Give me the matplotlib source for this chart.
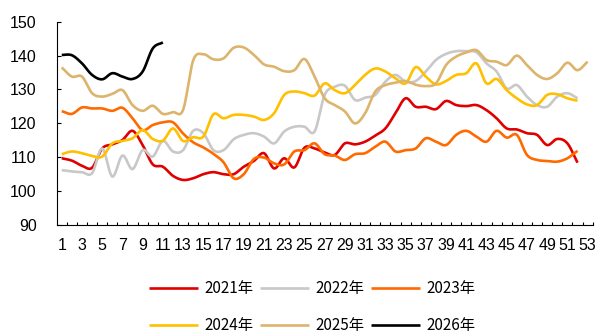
import numpy as np
import matplotlib
matplotlib.use("Agg")
import matplotlib.pyplot as plt

# weekly index values, one list per year
y2021 = [109.7, 109.0, 107.5, 106.9, 112.6, 113.8, 115.1, 117.8, 113.6, 107.9,
         107.2, 104.5, 103.3, 103.8, 105.0, 105.6, 105.0, 105.0, 107.2, 108.9,
         111.2, 106.7, 109.7, 107.0, 112.8, 112.6, 111.4, 110.7, 114.1, 113.8,
         114.6, 116.4, 118.5, 123.0, 127.4, 124.9, 124.9, 124.2, 126.6, 125.4,
         125.1, 125.4, 123.9, 121.5, 118.5, 118.2, 117.1, 116.6, 113.6, 115.4,
         114.1, 108.4]
y2022 = [106.2, 105.8, 105.6, 105.3, 112.6, 104.3, 110.5, 106.5, 112.1, 110.2,
         114.8, 111.7, 112.1, 117.8, 117.1, 112.1, 112.1, 115.3, 116.6, 117.1,
         116.1, 114.1, 117.6, 119.0, 119.0, 117.6, 128.4, 130.8, 131.1, 126.9,
         127.6, 128.4, 132.3, 134.3, 132.3, 132.5, 135.3, 138.7, 140.5, 141.3,
         141.3, 141.0, 137.7, 135.3, 130.3, 131.3, 127.9, 125.4, 124.9, 127.9,
         128.9, 127.4]
y2023 = [123.6, 122.8, 124.7, 124.4, 124.4, 123.7, 124.6, 121.5, 118.0, 119.5,
         120.3, 120.3, 117.0, 114.4, 112.9, 111.0, 108.5, 103.8, 105.0, 109.5,
         109.9, 108.2, 107.9, 111.7, 112.1, 114.1, 110.9, 110.5, 109.2, 110.9,
         111.2, 113.1, 114.6, 111.7, 112.1, 112.6, 115.6, 114.6, 113.6, 116.6,
         117.8, 116.1, 114.6, 117.8, 115.8, 116.6, 110.7, 109.2, 108.9, 108.7,
         109.7, 111.9]
y2024 = [110.9, 111.7, 111.2, 110.4, 110.2, 114.1, 114.8, 115.6, 118.0, 115.4,
         114.9, 118.5, 114.8, 115.9, 116.1, 122.7, 121.5, 122.5, 122.5, 122.0,
         121.0, 123.0, 128.4, 129.4, 128.9, 128.2, 131.8, 129.8, 128.9, 131.3,
         134.3, 136.2, 135.3, 133.3, 131.8, 136.6, 133.8, 131.5, 132.5, 134.3,
         134.8, 137.7, 131.8, 133.1, 129.8, 127.4, 125.6, 125.4, 128.4, 128.6,
         127.4, 126.7]
y2025 = [136.5, 133.8, 133.8, 128.9, 127.9, 128.7, 129.8, 125.4, 123.7, 125.2,
         122.8, 123.3, 124.0, 138.6, 140.4, 138.9, 139.2, 142.3, 142.4, 140.2,
         137.4, 136.7, 135.4, 135.7, 139.0, 133.8, 127.4, 125.4, 123.5, 120.0,
         123.0, 129.4, 131.3, 132.0, 132.5, 131.4, 131.0, 131.8, 137.2, 139.7,
         140.9, 141.6, 138.7, 138.2, 137.2, 140.0, 137.2, 134.3, 133.1, 134.8,
         137.9, 135.7, 138.2]
y2026 = [140.2, 140.1, 137.7, 134.3, 133.0, 134.8, 133.8, 133.1, 135.3, 142.1,
         143.9]

labels = ["2021年", "2022年", "2023年", "2024年", "2025年", "2026年"]
colors = ["#E00000", "#C8C8C8", "#FF6A00", "#FFC000", "#DCB46C", "#000000"]
series = [y2021, y2022, y2023, y2024, y2025, y2026]


def smooth(y, n=12):
    # Catmull-Rom curve through the weekly points
    y = np.asarray(y, dtype=float)
    x = np.arange(1, len(y) + 1, dtype=float)
    p = np.concatenate([[2 * y[0] - y[1]], y, [2 * y[-1] - y[-2]]])
    xs, ys = [], []
    for i in range(len(y) - 1):
        t = np.linspace(0, 1, n, endpoint=False)
        p0, p1, p2, p3 = p[i], p[i + 1], p[i + 2], p[i + 3]
        v = 0.5 * (2 * p1 + (-p0 + p2) * t + (2 * p0 - 5 * p1 + 4 * p2 - p3) * t ** 2
                   + (-p0 + 3 * p1 - 3 * p2 + p3) * t ** 3)
        xs.append(x[i] + t)
        ys.append(v)
    xs.append([x[-1]])
    ys.append([y[-1]])
    return np.concatenate(xs), np.concatenate(ys)


plt.rcParams['font.family'] = ['Liberation Sans', 'DejaVu Sans']

fig = plt.figure(figsize=(5.98, 3.34), dpi=100)
ax = fig.add_axes([0.0948, 0.3263, 0.8963, 0.6087])

lines = []
for y, c, lab in zip(series, colors, labels):
    xs, ys = smooth(y)
    ln, = ax.plot(xs, ys, color=c, lw=1.9, label=lab, solid_capstyle='butt')
    lines.append(ln)

ax.set_xlim(0.5, 53.5)
ax.set_ylim(90, 150)
ax.set_yticks(np.arange(90, 151, 10))
ax.set_xticks(np.arange(1, 54, 2))
ax.set_xticks(np.arange(1.5, 54, 1), minor=True)
ax.tick_params(axis='x', which='major', length=0, pad=9, labelsize=11.5)
ax.tick_params(axis='x', which='minor', direction='in', length=2.5, width=0.8)
ax.tick_params(axis='y', direction='in', length=3, width=0.8, pad=14.5, labelsize=11.5)
for s in ['top', 'right']:
    ax.spines[s].set_visible(False)
for s in ['left', 'bottom']:
    ax.spines[s].set_linewidth(0.8)

# legend filled row by row: 2021-2023 on top, 2024-2026 below
order = [0, 3, 1, 4, 2, 5]
fig.legend([lines[i] for i in order], [labels[i] for i in order],
           loc='center', bbox_to_anchor=(0.522, 0.081), ncol=3, frameon=False,
           prop={'family': ['Noto Sans CJK SC', 'DejaVu Sans'], 'size': 11},
           handlelength=3.2, handletextpad=0.4, columnspacing=0.45,
           labelspacing=1.3)

fig.savefig("out.png", dpi=100)
